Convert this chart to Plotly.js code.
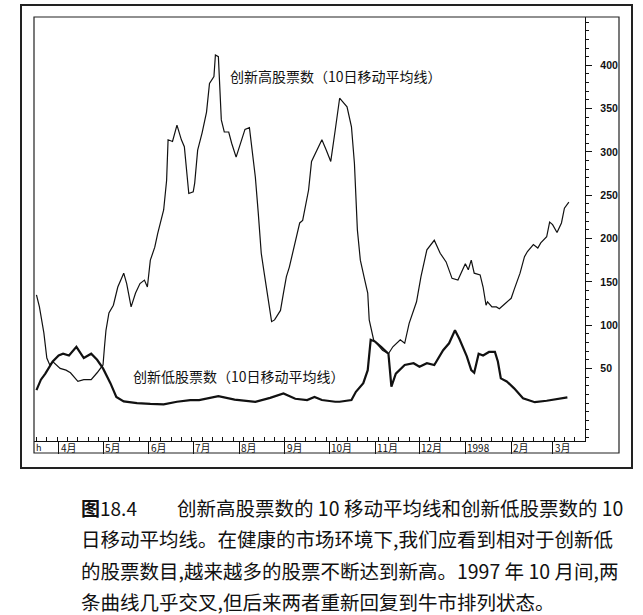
<!DOCTYPE html>
<html><head><meta charset="utf-8">
<script src="https://cdn.plot.ly/plotly-3.0.1.min.js"></script>
<style>html,body{margin:0;padding:0;background:#fff}#chart{width:643px;height:615px}</style>
</head><body><div id="chart"></div>
<script>
// ---- data ----
const highDates = ['1997-03-17','1997-03-19','1997-03-22','1997-03-24','1997-03-26','1997-03-28','1997-04-02','1997-04-06','1997-04-09','1997-04-14','1997-04-18','1997-04-23','1997-04-27','1997-05-01','1997-05-02','1997-05-03','1997-05-05','1997-05-08','1997-05-11','1997-05-15','1997-05-17','1997-05-20','1997-05-23','1997-05-26','1997-05-29','1997-05-31','1997-06-02','1997-06-05','1997-06-07','1997-06-11','1997-06-13','1997-06-14','1997-06-17','1997-06-20','1997-06-23','1997-06-25','1997-06-28','1997-07-01','1997-07-02','1997-07-04','1997-07-07','1997-07-10','1997-07-12','1997-07-15','1997-07-16','1997-07-18','1997-07-20','1997-07-22','1997-07-25','1997-07-27','1997-07-30','1997-08-02','1997-08-05','1997-08-08','1997-08-10','1997-08-12','1997-08-14','1997-08-16','1997-08-18','1997-08-21','1997-08-23','1997-08-25','1997-08-29','1997-08-31','1997-09-02','1997-09-04','1997-09-08','1997-09-11','1997-09-13','1997-09-17','1997-09-19','1997-09-22','1997-09-26','1997-09-29','1997-10-02','1997-10-05','1997-10-08','1997-10-10','1997-10-13','1997-10-16','1997-10-18','1997-10-20','1997-10-22','1997-10-25','1997-10-27','1997-10-28','1997-10-31','1997-11-03','1997-11-06','1997-11-10','1997-11-13','1997-11-18','1997-11-21','1997-11-24','1997-11-29','1997-12-02','1997-12-06','1997-12-11','1997-12-15','1997-12-19','1997-12-23','1997-12-27','1998-01-01','1998-01-03','1998-01-05','1998-01-07','1998-01-11','1998-01-13','1998-01-15','1998-01-16','1998-01-19','1998-01-22','1998-01-24','1998-01-28','1998-02-01','1998-02-03','1998-02-07','1998-02-10','1998-02-12','1998-02-16','1998-02-19','1998-02-21','1998-02-25','1998-02-27','1998-03-01','1998-03-04','1998-03-07','1998-03-09','1998-03-12'];
const highValues = [135,121,91,62,54,58,50,48,45,35,37,37,45,54,75,94,114,123,144,160,148,121,137,148,152,144,175,190,206,233,267,314,312,331,314,306,252,254,264,302,322,346,379,387,412,410,337,323,323,310,294,310,326,328,302,271,229,183,160,125,104,106,117,137,156,167,198,218,221,256,289,299,314,302,289,325,362,358,352,329,287,210,175,152,137,106,83,77,71,67,75,83,79,102,127,156,187,198,183,173,154,152,171,164,175,160,158,144,123,127,121,121,119,125,131,141,160,179,185,193,189,195,202,219,216,207,218,235,242];

const lowDates = ['1997-03-17','1997-03-20','1997-03-23','1997-03-28','1997-04-01','1997-04-04','1997-04-08','1997-04-13','1997-04-18','1997-04-23','1997-04-27','1997-05-01','1997-05-06','1997-05-10','1997-05-15','1997-05-24','1997-06-02','1997-06-11','1997-06-20','1997-06-29','1997-07-05','1997-07-14','1997-07-18','1997-07-29','1997-08-12','1997-08-22','1997-08-31','1997-09-08','1997-09-16','1997-09-21','1997-09-26','1997-10-05','1997-10-08','1997-10-16','1997-10-19','1997-10-24','1997-10-27','1997-10-29','1997-11-01','1997-11-05','1997-11-10','1997-11-12','1997-11-15','1997-11-21','1997-11-27','1997-12-01','1997-12-06','1997-12-11','1997-12-17','1997-12-21','1997-12-25','1997-12-28','1998-01-02','1998-01-05','1998-01-07','1998-01-10','1998-01-13','1998-01-17','1998-01-21','1998-01-23','1998-01-25','1998-01-29','1998-02-03','1998-02-09','1998-02-17','1998-02-25','1998-03-06','1998-03-11'];
const lowValues = [25,37,44,58,65,67,65,75,62,67,60,50,33,17,12,10,9,8.5,11.5,13.5,13.5,17,18,14,11.5,16,21,15,13.5,17,13.5,11.5,11.5,13.5,23,33,48,83,81,75,67,29,44,54,56,52,56,54,71,79,94,84,64,48,45,67,65,69,69,58,38.5,35,27,15.5,11,12.7,14.7,16.6];

const monthTickDates = ['1997-04-01','1997-05-01','1997-06-01','1997-07-01','1997-08-01','1997-09-01','1997-10-01','1997-11-01','1997-12-01','1998-01-01','1998-02-01','1998-03-01'];
const monthTickLabels = ['4月','5月','6月','7月','8月','9月','10月','11月','12月','1998','2月','3月'];
const startLabel = 'h';
const yTickValues = [50,100,150,200,250,300,350,400];
const yTickLabels = ['50','100','150','200','250','300','350','400'];

const highLabel = '创新高股票数（10日移动平均线）';
const lowLabel = '创新低股票数（10日移动平均线）';
const captionHead = '<b>图</b>18.4';
const captionLines = [
  '创新高股票数的 10 移动平均线和创新低股票数的 10',
  '日移动平均线。在健康的市场环境下,我们应看到相对于创新低',
  '的股票数目,越来越多的股票不断达到新高。1997 年 10 月间,两',
  '条曲线几乎交叉,但后来两者重新回复到牛市排列状态。'
];

// ---- layout helpers (pixel -> paper) ----
const L = 34, R = 585, T = 17, B = 441;
const px = x => (x - L) / (R - L);
const py = y => (B - y) / (B - T);

const cjk = '"Noto Sans CJK SC", "Noto Sans", sans-serif';

const traces = [
  {x: highDates, y: highValues, type: 'scatter', mode: 'lines',
   line: {color: '#111', width: 1.2, shape: 'linear'}, hoverinfo: 'skip'},
  {x: lowDates, y: lowValues, type: 'scatter', mode: 'lines',
   line: {color: '#111', width: 2.2, shape: 'linear'}, hoverinfo: 'skip'}
];

const annotations = [];
annotations.push({xref: 'paper', yref: 'paper', x: px(228), y: py(76), xanchor: 'left', yanchor: 'middle',
  text: highLabel, showarrow: false, font: {family: cjk, size: 14, color: '#111'}});
annotations.push({xref: 'paper', yref: 'paper', x: px(131), y: py(376), xanchor: 'left', yanchor: 'middle',
  text: lowLabel, showarrow: false, font: {family: cjk, size: 14, color: '#111'}});
monthTickDates.forEach((d, i) => {
  annotations.push({xref: 'x', yref: 'paper', x: d, y: py(447.5), xanchor: 'left', yanchor: 'middle', xshift: 0,
    text: monthTickLabels[i], showarrow: false, font: {family: cjk, size: 10, color: '#111'}});
});
annotations.push({xref: 'paper', yref: 'paper', x: 0, y: py(447.5), xanchor: 'left', yanchor: 'middle',
  text: startLabel, showarrow: false, font: {family: cjk, size: 9, color: '#111'}});
// caption
annotations.push({xref: 'paper', yref: 'paper', x: px(79), y: py(507), xanchor: 'left', yanchor: 'middle',
  text: captionHead, showarrow: false, font: {family: cjk, size: 19, color: '#111'}});
const capY = [507, 538, 570, 601];
const capX = [175, 79, 79, 79];
captionLines.forEach((t, i) => {
  annotations.push({xref: 'paper', yref: 'paper', x: px(capX[i]), y: py(capY[i]), xanchor: 'left', yanchor: 'middle',
    text: t, showarrow: false, font: {family: cjk, size: 19.5, color: '#111'}});
});

const shapes = [
  {type: 'rect', xref: 'paper', yref: 'paper', x0: px(21), x1: px(632), y0: py(468), y1: py(5),
   line: {color: '#222', width: 2}},
  {type: 'rect', xref: 'paper', yref: 'paper', x0: px(34), x1: px(619), y0: py(453), y1: py(17),
   line: {color: '#222', width: 1.2}}
];

const layout = {
  width: 643, height: 615,
  margin: {l: L, r: 643 - R, t: T, b: 615 - B, pad: 0},
  paper_bgcolor: '#fff', plot_bgcolor: '#fff',
  showlegend: false,
  xaxis: {
    type: 'date',
    range: ['1997-03-15 08:00', '1998-03-22 22:00'],
    showgrid: false, zeroline: false,
    showline: true, linecolor: '#111', linewidth: 1.2,
    tickmode: 'array', tickvals: monthTickDates, ticktext: monthTickLabels,
    showticklabels: false,
    ticks: 'outside', ticklen: 12, tickwidth: 1, tickcolor: '#111',
    minor: {tickmode: 'linear', tick0: '1997-03-17', dtick: 7 * 86400000, ticks: 'inside', ticklen: 4, tickwidth: 1, tickcolor: '#111', showgrid: false}
  },
  yaxis: {
    side: 'right',
    range: [-33.8, 455.8],
    showgrid: false, zeroline: false,
    showline: true, linecolor: '#111', linewidth: 1.2,
    tickmode: 'array', tickvals: yTickValues, ticktext: yTickLabels,
    ticks: 'outside', ticklen: 6, tickwidth: 1, tickcolor: '#111',
    ticklabelstandoff: 6,
    tickfont: {family: '"Liberation Sans", Arial, sans-serif', size: 10.5, color: '#111', weight: 'bold'},
    minor: {tickmode: 'linear', tick0: 0, dtick: 10, ticks: 'outside', ticklen: 3, tickwidth: 1, tickcolor: '#111', showgrid: false}
  },
  annotations: annotations,
  shapes: shapes
};

Plotly.newPlot('chart', traces, layout, {staticPlot: true, displayModeBar: false});
</script>
</body></html>
